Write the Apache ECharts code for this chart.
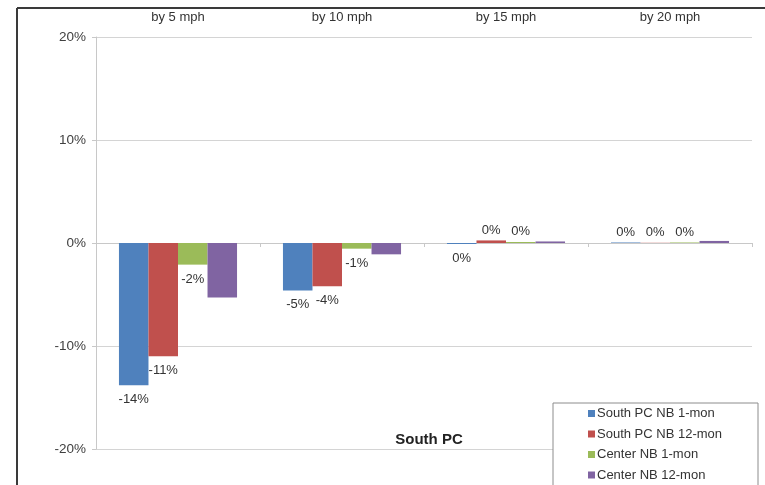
<!DOCTYPE html>
<html>
<head>
<meta charset="utf-8">
<script src="https://cdn.jsdelivr.net/npm/echarts@6/dist/echarts.min.js"></script>
<style>
  html, body { margin: 0; padding: 0; background: #fff; }
  #chart { width: 765px; height: 485px; }
</style>
</head>
<body>
<div id="chart"></div>
<script>
// Speed-change categories (shown along the top of the plot)
const categories = ['by 5 mph', 'by 10 mph', 'by 15 mph', 'by 20 mph'];

// Percent change per series
const southPc1Mon  = [-13.8, -4.6, -0.1, 0.05];
const southPc12Mon = [-11.0, -4.2,  0.25, 0.02];
const center1Mon   = [-2.1,  -0.55, 0.1, 0.05];
const center12Mon  = [-5.3,  -1.1,  0.15, 0.2];

const seriesNames = ['South PC NB 1-mon', 'South PC NB 12-mon', 'Center NB 1-mon', 'Center NB 12-mon'];
const seriesValues = [southPc1Mon, southPc12Mon, center1Mon, center12Mon];
const seriesShowLabels = [true, true, true, false];
const colors = ['#4F81BD', '#C0504D', '#9BBB59', '#8064A2'];

const yTicks = { min: -20, max: 20, interval: 10 };

const FONT = 'Liberation Sans, Arial, sans-serif';

// plot rectangle
const GRID = { left: 96, right: 13, top: 37, bottom: 36 };
const plotHeight = 485 - GRID.top - GRID.bottom;
const zeroFromBottom = plotHeight * (0 - yTicks.min) / (yTicks.max - yTicks.min);

function pct(v) {
  const r = Math.round(v);
  return (r === 0 ? 0 : r) + '%';
}

const chart = echarts.init(document.getElementById('chart'), null, { renderer: 'canvas' });

const series = seriesValues.map((vals, i) => ({
  name: seriesNames[i],
  type: 'bar',
  xAxisIndex: 0,
  barGap: '0%',
  barCategoryGap: '28%',
  itemStyle: { color: colors[i] },
  data: vals.map(v => ({
    value: v,
    label: {
      show: seriesShowLabels[i],
      position: v < 0 ? 'bottom' : 'top',
      distance: v < 0 ? 8 : 4
    }
  })),
  label: {
    fontFamily: FONT,
    fontSize: 13,
    color: '#333',
    formatter: p => pct(p.value)
  }
}));

chart.setOption({
  animation: false,
  backgroundColor: '#fff',
  textStyle: { fontFamily: FONT },
  title: {
    text: 'South PC',
    left: 424,
    top: 427,
    textAlign: 'center',
    textStyle: { fontFamily: FONT, fontSize: 15, fontWeight: 'bold', color: '#222' }
  },
  legend: {
    orient: 'vertical',
    left: 553,
    top: 403,
    height: 140,
    padding: [4, 36, 20, 35],
    itemGap: 7.5,
    itemWidth: 7,
    itemHeight: 7,
    icon: 'rect',
    backgroundColor: '#fff',
    borderColor: '#8c8c8c',
    borderWidth: 1,
    textStyle: { fontFamily: FONT, fontSize: 13, color: '#333', padding: [0, 0, 0, -3] },
    data: seriesNames,
    z: 10
  },
  grid: { left: GRID.left, right: GRID.right, top: GRID.top, bottom: GRID.bottom, containLabel: false },
  xAxis: [
    {
      type: 'category',
      data: categories,
      position: 'top',
      axisLine: { show: false },
      axisTick: { show: false },
      axisLabel: { fontFamily: FONT, fontSize: 13, color: '#333', margin: 13 },
      splitLine: { show: false }
    },
    {
      // baseline through 0% with category separators
      type: 'category',
      data: categories,
      position: 'bottom',
      offset: -zeroFromBottom,
      axisLine: { show: true, onZero: false, lineStyle: { color: '#c8c8c8', width: 1 } },
      axisTick: { show: true, length: 4, lineStyle: { color: '#c8c8c8' } },
      axisLabel: { show: false },
      splitLine: { show: false }
    }
  ],
  yAxis: {
    type: 'value',
    min: yTicks.min,
    max: yTicks.max,
    interval: yTicks.interval,
    axisLine: { show: true, lineStyle: { color: '#c8c8c8' } },
    axisTick: { show: true, length: 4, lineStyle: { color: '#c8c8c8' } },
    axisLabel: { fontFamily: FONT, fontSize: 13.5, color: '#404040', margin: 10, formatter: '{value}%' },
    splitLine: { show: true, lineStyle: { color: '#d4d4d4', width: 1 } }
  },
  graphic: [
    { type: 'line', shape: { x1: 17, y1: 8, x2: 765, y2: 8 }, style: { stroke: '#3a3a3a', lineWidth: 2 }, z: 20 },
    { type: 'line', shape: { x1: 17, y1: 8, x2: 17, y2: 485 }, style: { stroke: '#3a3a3a', lineWidth: 2 }, z: 20 }
  ],
  series: series
});
</script>
</body>
</html>
